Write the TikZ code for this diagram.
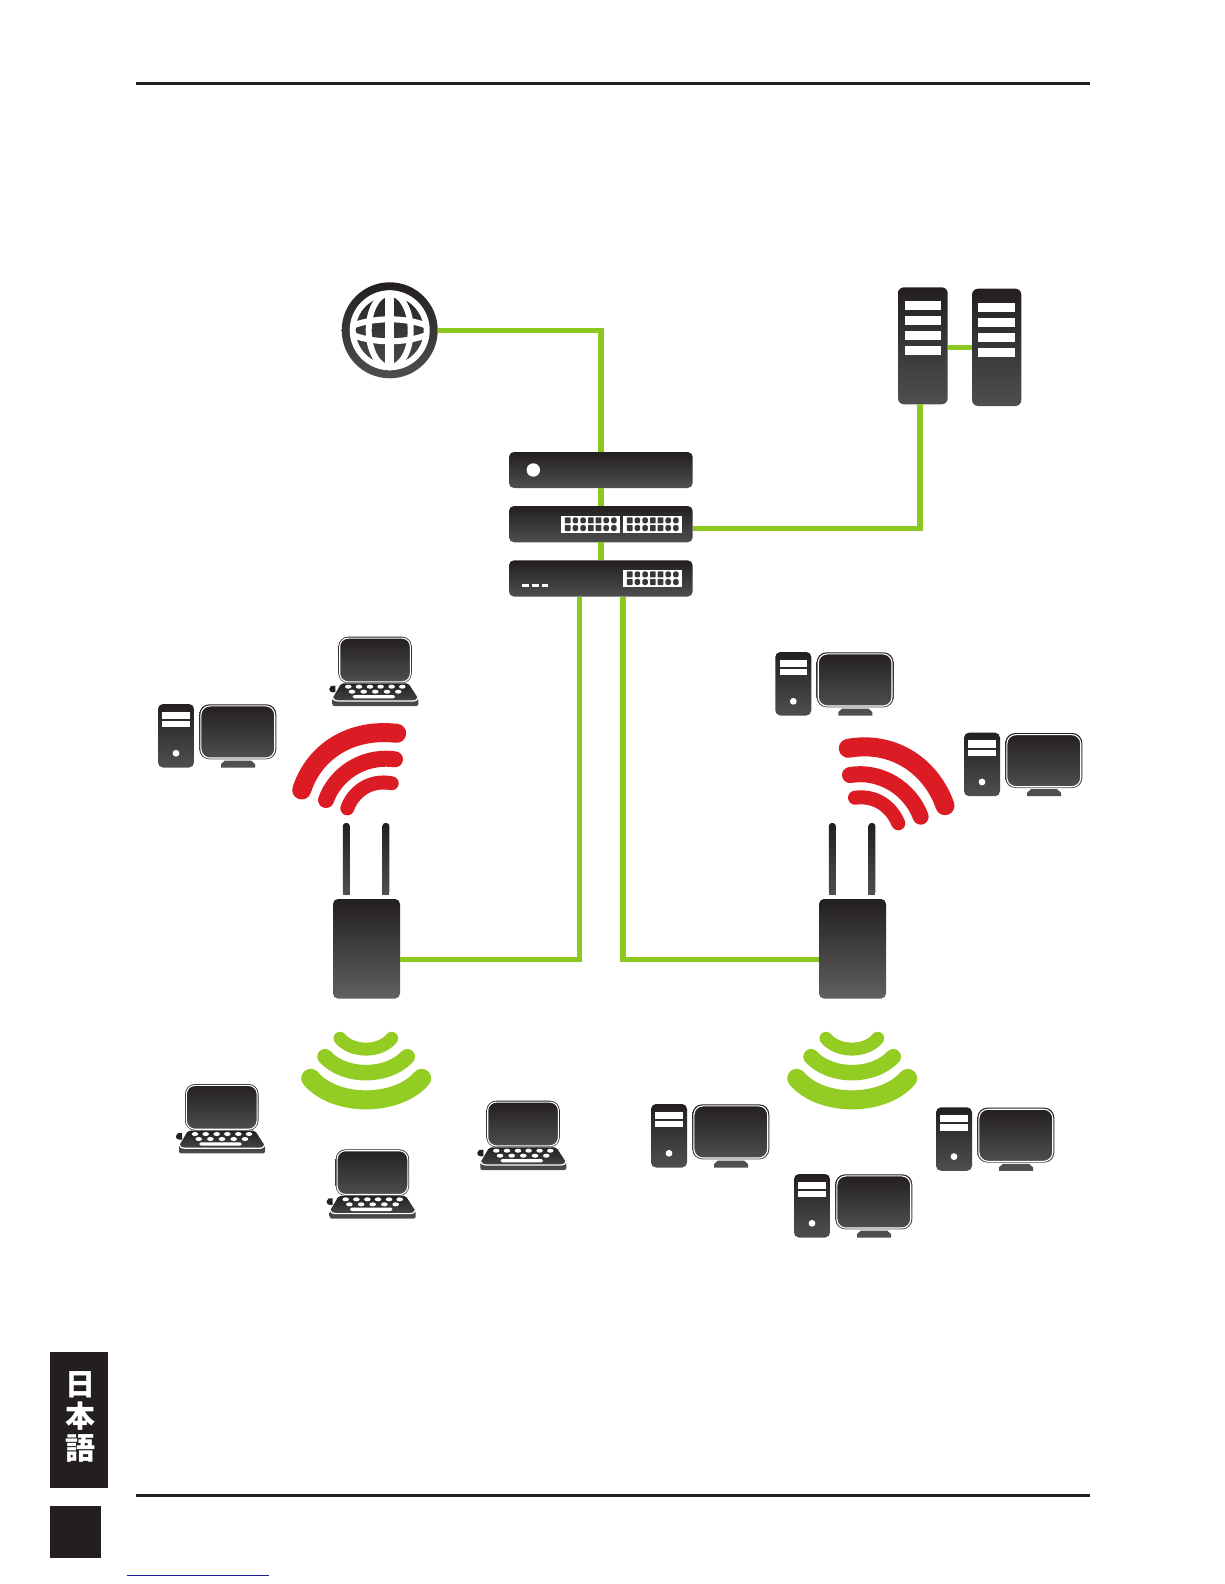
\documentclass[tikz,border=0pt]{standalone}
\usepackage{fontspec}
\newfontfamily\cjkfont{Noto Sans CJK JP}
\definecolor{darktop}{HTML}{231F20}
\definecolor{darkbot}{HTML}{4F4E50}
\definecolor{wiregreen}{HTML}{8DC81E}
\definecolor{wavered}{HTML}{DC1C24}
\definecolor{wavegreen}{HTML}{93CC22}
\definecolor{portdark}{HTML}{3A3738}
\definecolor{linknavy}{HTML}{1C1C96}
\tikzset{
  grad/.style={top color=darktop,bottom color=darkbot,draw=none},
  devbox/.style={grad,rectangle,rounded corners=#1,inner sep=0pt,outer sep=0pt,anchor=north west},
  devbox/.default=4pt,
  wire/.style={draw=wiregreen,line width=5.5pt,line cap=butt,line join=miter},
  redwave/.style={draw=wavered,line cap=round},
  greenwave/.style={draw=wavegreen,line cap=round},
  slotfill/.style={fill=white,draw=none},
  rule/.style={draw=darktop,line width=3pt},
  screenring/.style={draw=white,line width=1.1pt,rounded corners=#1},
  screenring/.default=9pt
}
% name, x, y (tower top-left)
\newcommand\pcicon[3]{
  \begin{scope}[shift={(#2,#3)}]
    \node[devbox=5pt,minimum width=36pt,minimum height=63.5pt] (#1t) at (0,0) {};
    \fill[slotfill] (4.3,7.7) rectangle (32,15);
    \fill[slotfill] (4.3,17) rectangle (32,23.3);
    \fill[white] (18,49.3) circle[radius=3.4pt];
    \fill[darkbot] (63,63.5) -- (63,60) -- (67,56.5) -- (93,56.5) -- (97,60) -- (97,63.5) -- cycle;
    \node[devbox=10pt,minimum width=77pt,minimum height=55pt] (#1m) at (41.3,0.3) {};
    \draw[screenring] (42.9,1.9) rectangle (116.7,54);
  \end{scope}
}
% name, x, y (screen top-left)
\newcommand\lapicon[3]{
  \begin{scope}[shift={(#2,#3)}]
    \fill[darktop] (-9,52) .. controls (-9,49) and (-6,48.5) .. (-3,49) -- (-3,55.5) .. controls (-7,56) and (-9,55) .. (-9,52) -- cycle;
    \shade[grad,rounded corners=2pt] (3,46.6) -- (70,46.6) -- (80,62) -- (80,69.3) -- (-6,69.3) -- (-6,62) -- cycle;
    \draw[white,line width=1.2pt] (-6,60.5) .. controls (-5,63.5) and (-3,64.3) .. (0,64.3) -- (75,64.3) .. controls (77,64.3) and (79,63.5) .. (80,60.5);
    \foreach \kx in {10,20.7,31.7,42.3,53.3,64}
      \fill[white] (\kx,50) ellipse[x radius=3.3pt,y radius=2pt];
    \foreach \kx in {13.7,25.4,37,48.7,60}
      \fill[white] (\kx,55) ellipse[x radius=3.3pt,y radius=2pt];
    \fill[white,rounded corners=1.5pt] (14.4,58.3) rectangle (56.7,61.7);
    \node[devbox=10pt,minimum width=73.5pt,minimum height=46.6pt] (#1m) at (0,0) {};
    \draw[screenring=8.5pt] (1.4,1.4) rectangle (72.1,45.2);
  \end{scope}
}
% name, x offset relative to left AP
\newcommand\apicon[2]{
  \begin{scope}[xshift=#2pt]
    \shade[grad,rounded corners=3pt] (342.8,895) -- (342.8,823) -- (349.8,823) -- (349.8,895) -- cycle;
    \shade[grad,rounded corners=3pt] (382.4,895) -- (382.4,823) -- (389.4,823) -- (389.4,895) -- cycle;
    \fill[darkbot] (342.8,890) rectangle (349.8,895);
    \fill[darkbot] (382.4,890) rectangle (389.4,895);
    \node[devbox=5pt,minimum width=67pt,minimum height=99.5pt,top color=darktop,bottom color=darkbot!90!white] (#1) at (333,899) {};
    \draw[greenwave,line width=19pt] (310.7,1078.3) .. controls (335,1107) and (397,1107) .. (421.7,1078.3);
    \draw[greenwave,line width=15.5pt] (325,1056.7) .. controls (345,1078) and (387,1078) .. (407.3,1056.7);
    \draw[greenwave,line width=13pt] (340,1038.3) .. controls (352,1052.7) and (380,1052.7) .. (391.7,1038.3);
  \end{scope}
}
% panel top-left x,y
\newcommand\portpanel[3]{
  \node[fill=white,draw=none,inner sep=0pt,anchor=north west,minimum width=59pt,minimum height=16.7pt] (#1) at (#2,#3) {};
  \foreach \ci/\cr in {0/0.6,1/2.2,2/2.2,3/0.6,4/0.6,5/2.2,6/2.2}{
    \foreach \cj in {0,1}{
      \fill[portdark,rounded corners=\cr pt] ({#2+3.9+7.7*\ci},{#3+1.4+7.6*\cj}) rectangle ++(5.6,6);
    }
  }
}
\begin{document}
\begin{tikzpicture}[x=1pt,y=-1pt]
\useasboundingbox (0,0) rectangle (1224,1584);
\fill[white] (0,0) rectangle (1224,1584);

% page furniture
\coordinate (rt1) at (136,84);
\coordinate (rt2) at (1090,84);
\coordinate (rb1) at (136,1495.3);
\coordinate (rb2) at (1090,1495.3);
\coordinate (lk1) at (126.7,1575.3);
\coordinate (lk2) at (269,1575.3);
\draw[rule] (rt1) -- (rt2);
\draw[rule] (rb1) -- (rb2);
\draw[linknavy,line width=1pt] (lk1) -- (lk2);
\node[fill=darktop,inner sep=0pt,anchor=north west,minimum width=58.7pt,minimum height=135.7pt] (tab) at (49.3,1352) {};
\node[fill=darktop,inner sep=0pt,anchor=north west,minimum width=51.7pt,minimum height=52pt] (pagebox) at (49.3,1506) {};
\node[text=white,inner sep=0pt,align=center,font=\cjkfont\bfseries\fontsize{30}{32}\selectfont] (tabtext) at (80,1417) {日\\本\\語};

% globe
\node[circle,grad,minimum size=96pt,inner sep=0pt,outer sep=0pt] (globe) at (389.7,330.3) {};
\begin{scope}[shift={(globe.center)}]
  \draw[white,line width=6pt] (0,0) circle[radius=37pt];
  \draw[white,line width=6pt] (0,0) ellipse[x radius=21pt,y radius=37pt];
  \draw[white,line width=9pt] (0,-37) -- (0,37);
  \draw[white,line width=6pt] (-36,-5) .. controls (-15,-13) and (15,-13) .. (36,-5);
  \draw[white,line width=6pt] (-36,5) .. controls (-15,13) and (15,13) .. (36,5);
\end{scope}

% rack
\node[devbox=5pt,minimum width=183.7pt,minimum height=36pt] (box1) at (509,452) {};
\node[devbox=5pt,minimum width=183.7pt,minimum height=36.3pt] (box2) at (509,506) {};
\node[devbox=5pt,minimum width=183.7pt,minimum height=36.3pt] (box3) at (509,560.3) {};
\fill[white] (533.3,470) circle[radius=6.7pt];
\portpanel{pa}{561}{516}
\portpanel{pb}{623}{516}
\portpanel{pc}{623}{570}
\fill[white] (522.3,583.7) rectangle (529.3,587);
\fill[white] (532.3,583.7) rectangle (538.7,587);
\fill[white] (541.7,583.7) rectangle (548.3,587);

% servers
\node[devbox=6pt,minimum width=49.7pt,minimum height=117pt] (srva) at (898,287.3) {};
\node[devbox=6pt,minimum width=49.3pt,minimum height=117.3pt] (srvb) at (972,288.7) {};
\foreach \sy in {301,316,330.7,345.7} \fill[slotfill] (905,\sy) rectangle (941.3,\sy+9.2);
\foreach \sy in {303,318,333,348} \fill[slotfill] (978,\sy) rectangle (1015,\sy+9);

% access points with waves
\apicon{apl}{0}
\apicon{apr}{486}
\draw[redwave,line width=19pt] (301.7,790) .. controls (314,752) and (350,728) .. (396.7,733.3);
\draw[redwave,line width=16pt] (326,800) .. controls (335,775) and (362,755) .. (395,759.3);
\draw[redwave,line width=14pt] (347.3,808.3) .. controls (353,792) and (370,779) .. (391.7,783.3);
\draw[redwave,line width=19pt] (848.3,748.3) .. controls (895,740) and (932,768) .. (945,805.7);
\draw[redwave,line width=16pt] (850,775) .. controls (880,770) and (910,788) .. (920.7,816.7);
\draw[redwave,line width=14pt] (855,797.7) .. controls (875,795) and (891,806) .. (898.3,823.3);

% computers
\pcicon{pcA}{158}{704}
\pcicon{pcB}{775.3}{652}
\pcicon{pcC}{964}{732.7}
\pcicon{pcD}{651}{1104}
\pcicon{pcE}{936}{1107.3}
\pcicon{pcF}{794}{1174}
\lapicon{lapA}{338.3}{636.7}
\lapicon{lapB}{185}{1084}
\lapicon{lapC}{335.7}{1149.3}
\lapicon{lapD}{486.3}{1100.7}

% connectors
\coordinate (swr) at (692.7,528.3);
\coordinate (srvbot) at (920,404.3);
\coordinate (srvl) at (947.7,347.7);
\coordinate (srvr) at (972,347.7);
\coordinate (dl) at (579.7,596.6);
\coordinate (dr) at (623,596.6);
\coordinate (aplr) at (400,959.7);
\coordinate (aprl) at (819,959.7);
\draw[wire] (globe.east) -| (box1.north);
\draw[wire] (box1.south) -- (box2.north);
\draw[wire] (box2.south) -- (box3.north);
\draw[wire] (swr) -| (srvbot);
\draw[wire] (srvl) -- (srvr);
\draw[wire] (dl) |- (aplr);
\draw[wire] (dr) |- (aprl);
\end{tikzpicture}
\end{document}
